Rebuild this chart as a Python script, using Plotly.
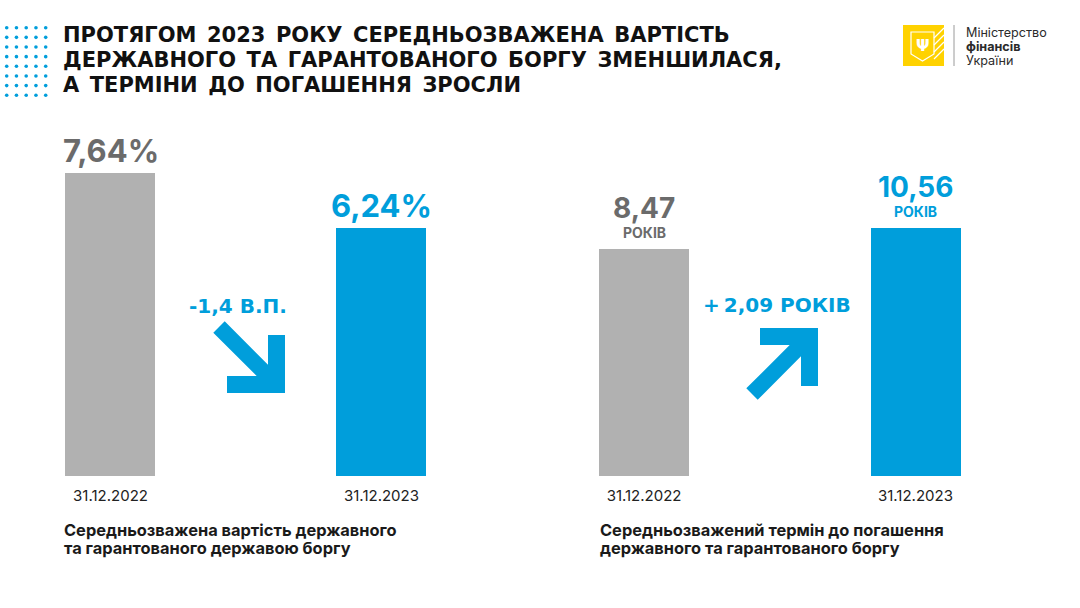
import plotly.graph_objects as go

W, H = 1080, 608

dates = ["31.12.2022", "31.12.2023"]
cost_values = [7.64, 6.24]      # weighted avg cost of debt, %
term_values = [8.47, 10.56]     # weighted avg term to maturity, years
unit_label = "РОКІВ"

title_lines = [
    "ПРОТЯГОМ 2023 РОКУ СЕРЕДНЬОЗВАЖЕНА ВАРТІСТЬ",
    "ДЕРЖАВНОГО ТА ГАРАНТОВАНОГО БОРГУ ЗМЕНШИЛАСЯ,",
    "А ТЕРМІНИ ДО ПОГАШЕННЯ ЗРОСЛИ",
]
cost_caption = ["Середньозважена вартість державного", "та гарантованого державою боргу"]
term_caption = ["Середньозважений термін до погашення", "державного та гарантованого боргу"]
logo_lines = ["Міністерство", "фінансів", "України"]

# the right panel of the original is not drawn from zero
term_axis_base = -14.09

GRAY, GRAY_TXT, BLUE, DARK = "#B1B1B1", "#6B6B6B", "#009EDB", "#1A1A1A"
FONT = "Inter"
WIDE = "DejaVu Sans"


def px(x):
    return x / W


def py(y):
    return 1 - y / H


def num(v, nd=2):
    return f"{v:.{nd}f}".replace(".", ",")


def arrow_path(cx, cy, sy, L=58, t=17, w=8, reach=66):
    # L-headed arrow, corner at (cx, cy); sy=+1 points down-right, -1 up-right
    d = w * 2 ** 0.5
    pts = [
        (0, 0), (-L, 0), (-L, -t), (-t - d, -t),
        (-reach - w * 0.707, -reach + w * 0.707),
        (-reach + w * 0.707, -reach - w * 0.707),
        (-t, -t - d), (-t, -L), (0, -L),
    ]
    return "M " + " L ".join(f"{cx + x:.1f},{cy + sy * y:.1f}" for x, y in pts) + " Z"


fig = go.Figure()

fig.add_trace(go.Bar(
    x=dates, y=cost_values, xaxis="x", yaxis="y",
    marker=dict(color=[GRAY, BLUE], line_width=0), width=0.332,
    hovertemplate="%{x}: %{y:.2f}%<extra></extra>",
))
fig.add_trace(go.Bar(
    x=dates, y=[v - term_axis_base for v in term_values], base=term_axis_base,
    xaxis="x2", yaxis="y2", customdata=term_values,
    marker=dict(color=[GRAY, BLUE], line_width=0), width=0.332,
    hovertemplate="%{x}: %{customdata:.2f}<extra></extra>",
))

# decorative dot grid, top left
dot_x, dot_y = [], []
for i in range(5):
    for j in range(8):
        dot_x.append(6.7 + 9.75 * i)
        dot_y.append(27.7 + 9.65 * j)
fig.add_trace(go.Scatter(
    x=dot_x, y=dot_y, xaxis="x3", yaxis="y3", mode="markers",
    marker=dict(size=3.6, color=BLUE), hoverinfo="skip",
))

ann = []
# value labels
for i, v in enumerate(cost_values):
    col = GRAY_TXT if i == 0 else BLUE
    ann.append(dict(x=dates[i], y=v, xref="x", yref="y", yanchor="bottom", yshift=2,
                    text=num(v) + "%", showarrow=False,
                    font=dict(family=FONT, size=31, color=col, weight=700)))
for i, v in enumerate(term_values):
    col = GRAY_TXT if i == 0 else BLUE
    ann.append(dict(x=dates[i], y=v, xref="x2", yref="y2", yanchor="bottom", yshift=22,
                    text=num(v), showarrow=False,
                    font=dict(family=FONT, size=28, color=col, weight=700)))
    ann.append(dict(x=dates[i], y=v, xref="x2", yref="y2", yanchor="bottom", yshift=6,
                    text=unit_label, showarrow=False,
                    font=dict(family=FONT, size=14, color=col, weight=700)))

# change labels
cost_diff = cost_values[1] - cost_values[0]
term_diff = term_values[1] - term_values[0]
ann.append(dict(x=px(237.5), y=py(306), xref="paper", yref="paper", showarrow=False,
                xanchor="center", yanchor="middle", text=num(cost_diff, 1) + " В.П.",
                font=dict(family=WIDE, size=20, color=BLUE, weight=700)))
ann.append(dict(x=px(777), y=py(305), xref="paper", yref="paper", showarrow=False,
                xanchor="center", yanchor="middle",
                text="+\u2009" + num(term_diff) + " " + unit_label,
                font=dict(family=WIDE, size=20, color=BLUE, weight=700)))

# title (the original uses a wide display face, so spaces are widened)
for k, line in enumerate(title_lines):
    ann.append(dict(x=px(61), y=py(35 + 25 * k), xref="paper", yref="paper",
                    xanchor="left", yanchor="middle", showarrow=False,
                    text=line.replace(" ", "\u2002"),
                    font=dict(family=WIDE, size=21, color="#111111", weight=700)))

# captions
for x0, cap in ((62, cost_caption), (598, term_caption)):
    for k, line in enumerate(cap):
        ann.append(dict(x=px(x0), y=py(530 + 18 * k), xref="paper", yref="paper",
                        xanchor="left", yanchor="middle", showarrow=False, text=line,
                        font=dict(family=FONT, size=16.4, color=DARK, weight=700)))

# logo text
for k, line in enumerate(logo_lines):
    ann.append(dict(x=px(964), y=py(33 + 14 * k), xref="paper", yref="paper",
                    xanchor="left", yanchor="middle", showarrow=False, text=line,
                    font=dict(family=FONT, size=12.6, color="#2B2B2B",
                              weight=700 if k == 1 else 400)))
ann.append(dict(x=922.5, y=45, xref="x3", yref="y3", showarrow=False, text="Ψ",
                font=dict(family="DejaVu Sans", size=16, color="white", weight=700)))

shapes = [
    dict(type="path", path=arrow_path(285, 393, 1), xref="x3", yref="y3",
         fillcolor=BLUE, line_width=0),
    dict(type="path", path=arrow_path(818, 328, -1), xref="x3", yref="y3",
         fillcolor=BLUE, line_width=0),
    # logo
    dict(type="rect", x0=903, x1=944, y0=25, y1=66, xref="x3", yref="y3",
         fillcolor="#FFD200", line_width=0),
    dict(type="path", path="M 911,32 L 934,32 L 934,54 L 922.5,61 L 911,54 Z",
         xref="x3", yref="y3", line=dict(color="white", width=1.2)),
    dict(type="line", x0=954, x1=954, y0=25, y1=66, xref="x3", yref="y3",
         line=dict(color="#9A9A9A", width=1)),
]
for k in range(4):
    shapes.append(dict(type="line", x0=934, y0=38 + 7 * k, x1=944, y1=28 + 7 * k,
                       xref="x3", yref="y3", line=dict(color="white", width=1.3)))

ax_common = dict(type="category", showgrid=False, zeroline=False, showline=False,
                 ticks="", range=[-0.2, 1.2], ticklabelstandoff=9,
                 tickfont=dict(family=FONT, size=15, color="#222222"))
y_hidden = dict(visible=False, showgrid=False, zeroline=False,
                domain=[py(476), py(130)])

fig.update_layout(
    width=W, height=H,
    margin=dict(l=0, r=0, t=0, b=0),
    paper_bgcolor="white", plot_bgcolor="rgba(0,0,0,0)",
    showlegend=False,
    xaxis=dict(ax_common, domain=[px(56.3), px(435.7)], anchor="y"),
    yaxis=dict(y_hidden, range=[0, 346 / 39.70], anchor="x"),
    xaxis2=dict(ax_common, domain=[px(589.8), px(969.7)], anchor="y2"),
    yaxis2=dict(y_hidden, range=[term_axis_base, term_axis_base + 346 / 10.05], anchor="x2"),
    xaxis3=dict(visible=False, domain=[0, 1], range=[0, W], anchor="y3"),
    yaxis3=dict(visible=False, domain=[0, 1], range=[H, 0], anchor="x3"),
    annotations=ann,
    shapes=shapes,
    bargap=0,
)

fig.write_html("out.html", config={"displayModeBar": False},
               post_script="document.body.style.margin = '0px';")
